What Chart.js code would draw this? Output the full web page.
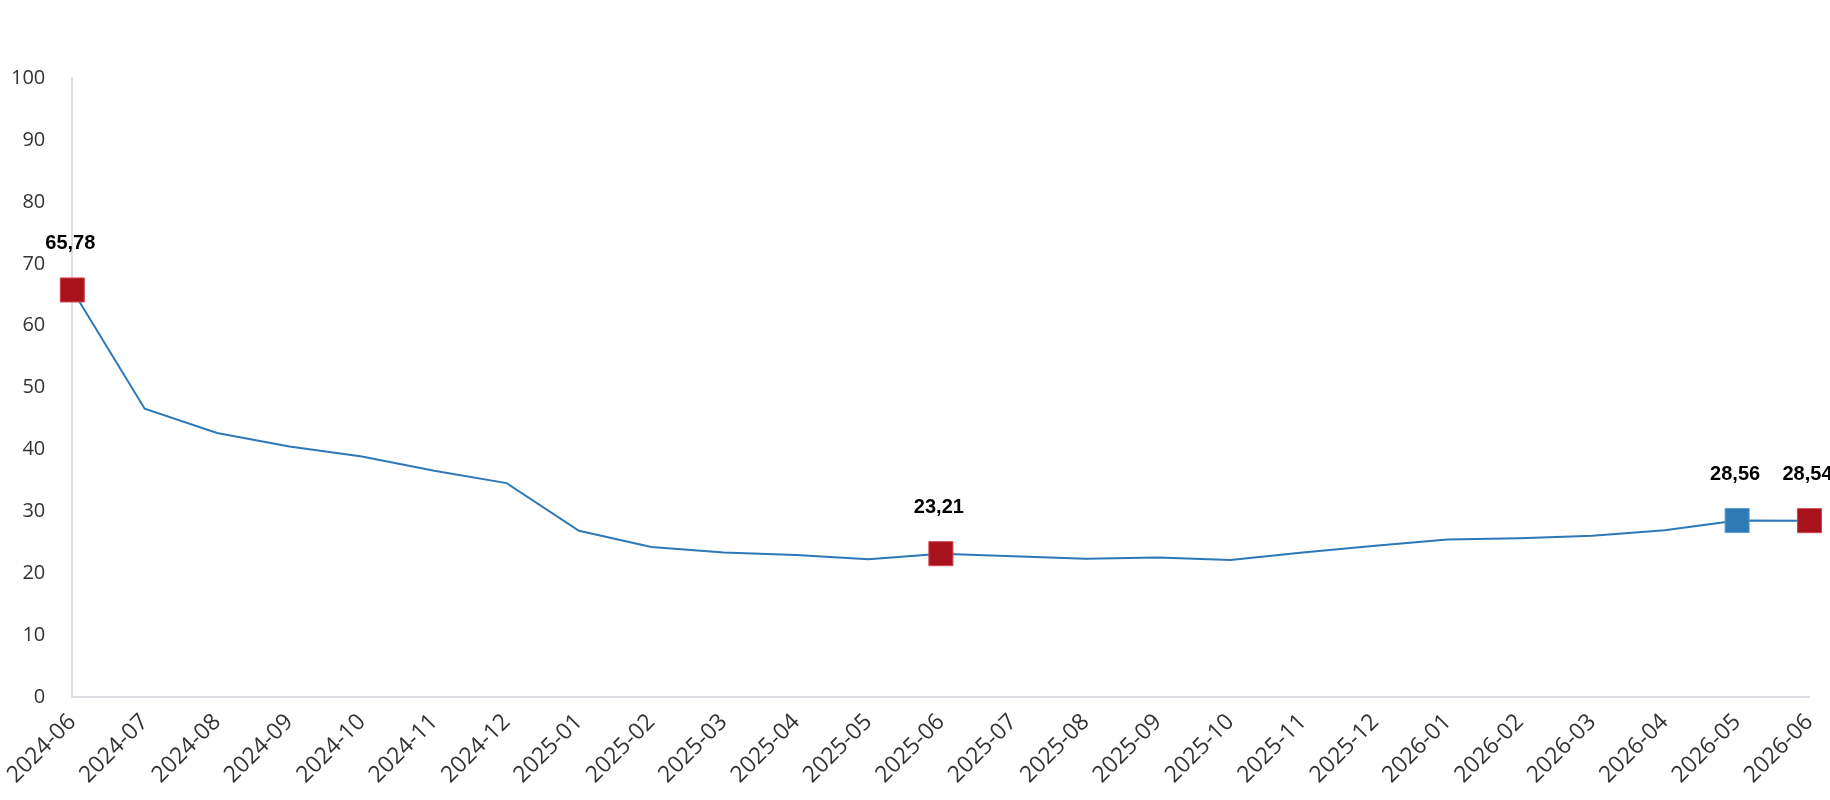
<!DOCTYPE html>
<html>
<head>
<meta charset="utf-8">
<title>Chart</title>
<script src="https://cdn.jsdelivr.net/npm/chart.js@4.4.1/dist/chart.umd.min.js"></script>
<style>
  html, body { margin: 0; padding: 0; background: #fff; }
  #wrap { width: 1830px; height: 800px; position: relative; overflow: hidden; }
  /* canvas is a bit wider and shifted left so the first rotated label runs off the edge */
  #grafic { position: absolute; left: -26px; top: 0; }
</style>
</head>
<body>
<div id="wrap"><canvas id="grafic" width="1866" height="800"></canvas></div>
<script>
// Data
const months = ['2024-06', '2024-07', '2024-08', '2024-09', '2024-10', '2024-11', '2024-12',
    '2025-01', '2025-02', '2025-03', '2025-04', '2025-05', '2025-06', '2025-07', '2025-08',
    '2025-09', '2025-10', '2025-11', '2025-12', '2026-01', '2026-02', '2026-03', '2026-04',
    '2026-05', '2026-06'];
const values = [65.78, 46.6, 42.7, 40.5, 38.9, 36.6, 34.6, 26.9, 24.3, 23.4, 23.0, 22.3,
    23.21, 22.8, 22.4, 22.6, 22.2, 23.4, 24.5, 25.5, 25.7, 26.1, 27.0, 28.56, 28.54];
const redMarks = ['2024-06', '2025-06', '2026-06'];
const blueMarks = ['2026-05'];
const yTicks = [0, 10, 20, 30, 40, 50, 60, 70, 80, 90, 100];

const RED = '#a8131b';
const BLUE = '#2e7bb6';
const LINE = '#2e78b7';

const isMarked = m => redMarks.includes(m) || blueMarks.includes(m);

// Labels above the highlighted points
const valueLabels = {
    id: 'valueLabels',
    afterDatasetsDraw(chart) {
        const ctx = chart.ctx;
        const meta = chart.getDatasetMeta(0);
        ctx.save();
        ctx.font = 'bold 20px "Liberation Sans", Arial, sans-serif';
        ctx.fillStyle = '#000';
        ctx.textAlign = 'center';
        ctx.textBaseline = 'middle';
        months.forEach((m, i) => {
            if (!isMarked(m)) return;
            const pt = meta.data[i];
            ctx.fillText(values[i].toFixed(2).replace('.', ','), pt.x - 2, pt.y - 46);
        });
        ctx.restore();
    }
};

document.addEventListener('DOMContentLoaded', () => {
    const ctx = document.getElementById('grafic');
    new Chart(ctx, {
        type: 'line',
        data: {
            labels: months,
            datasets: [{
                data: values,
                borderColor: LINE,
                borderWidth: 2,
                tension: 0,
                clip: false,
                pointStyle: 'rect',
                pointRadius: months.map(m => isMarked(m) ? 17 : 0),
                pointHoverRadius: months.map(m => isMarked(m) ? 17 : 0),
                pointBackgroundColor: months.map(m => blueMarks.includes(m) ? BLUE : RED),
                pointBorderColor: months.map(m => blueMarks.includes(m) ? '#5b9bd0' : '#d2464d'),
                pointBorderWidth: 1
            }]
        },
        options: {
            responsive: false,
            animation: false,
            layout: {
                padding: { left: 10, right: 23, top: 78, bottom: 0 }
            },
            plugins: {
                legend: { display: false },
                tooltip: { enabled: false }
            },
            scales: {
                x: {
                    offset: false,
                    grid: { display: false, drawTicks: false },
                    border: { display: true, color: '#dde1e6', width: 2 },
                    ticks: {
                        color: '#333',
                        font: { family: '"Open Sans", sans-serif', size: 23 },
                        minRotation: 45,
                        maxRotation: 45,
                        autoSkip: false,
                        padding: 11
                    }
                },
                y: {
                    min: 0,
                    max: 100,
                    grid: { display: false, drawTicks: false },
                    border: { display: true, color: '#dde1e6', width: 2 },
                    afterBuildTicks: axis => { axis.ticks = yTicks.map(v => ({ value: v })); },
                    ticks: {
                        color: '#333',
                        font: { family: '"Open Sans", sans-serif', size: 20 },
                        padding: 27
                    }
                }
            }
        },
        plugins: [valueLabels]
    });
});
</script>
</body>
</html>
